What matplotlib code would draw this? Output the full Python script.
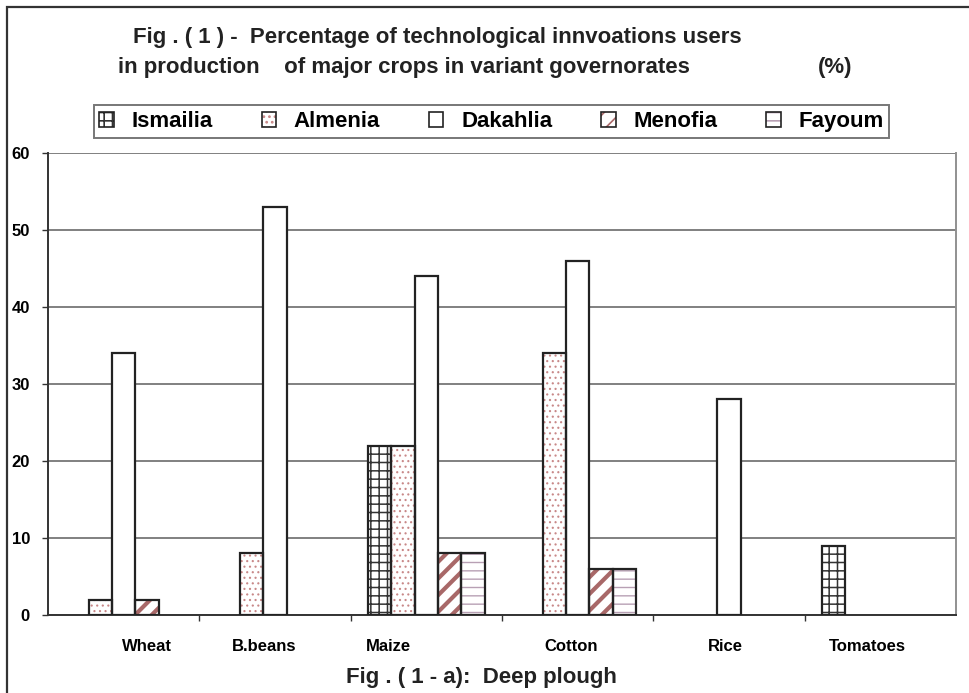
import numpy as np
import matplotlib
matplotlib.use("Agg")
import matplotlib.pyplot as plt
from matplotlib.patches import Rectangle
from matplotlib.transforms import ScaledTranslation

plt.rcParams['font.family'] = ['Liberation Sans', 'DejaVu Sans']
plt.rcParams['font.weight'] = 'bold'
plt.rcParams['hatch.linewidth'] = 1.2

# data
crops = ['Wheat', 'B.beans', 'Maize', 'Cotton', 'Rice', 'Tomatoes']
governorates = ['Ismailia', 'Almenia', 'Dakahlia', 'Menofia', 'Fayoum']
ismailia = [0, 0, 22, 0, 0, 9]
almenia = [2, 8, 22, 34, 0, 0]
dakahlia = [34, 53, 44, 46, 28, 0]
menofia = [2, 0, 8, 6, 0, 0]
fayoum = [0, 0, 8, 6, 0, 0]
series = [ismailia, almenia, dakahlia, menofia, fayoum]

# styling: (hatch, hatch colour, hatch linewidth)
styles = [('++', '#333333', 1.1), ('...', '#c88888', 0.8), ('', '#ffffff', 1.0),
          ('//', '#a86868', 3.0), ('--', '#b8a0b4', 1.0)]

# label offsets (px) to mimic the original placement
label_dx = [23, -11, -38, -7, -4, -13]

fig = plt.figure(figsize=(9.7, 6.93), dpi=100)
ax = fig.add_axes([48 / 970, 78 / 693, 908 / 970, 462 / 693])


def set_hlw(artists, lw):
    for a in artists:
        if hasattr(a, 'set_hatch_linewidth'):
            a.set_hatch_linewidth(lw)


x = np.arange(len(crops))
w = 0.154
handles = []
for i, (vals, (hatch, hc, hlw)) in enumerate(zip(series, styles)):
    pos = x + (i - 2) * w
    vals = np.array(vals, dtype=float)
    vals[vals == 0] = np.nan
    bars = ax.bar(pos, vals, w, color='white', edgecolor=hc, hatch=hatch, linewidth=0, zorder=2)
    set_hlw(bars, hlw)
    ax.bar(pos, vals, w, facecolor='none', edgecolor='#222222', linewidth=1.6, zorder=3)
    h1 = Rectangle((0, 0), 1, 1, facecolor='white', edgecolor=hc, hatch=hatch, linewidth=0)
    set_hlw([h1], hlw)
    h2 = Rectangle((0, 0), 1, 1, facecolor='none', edgecolor='#222222', linewidth=1.2)
    handles.append((h1, h2))

ax.set_xlim(-0.5, len(crops) - 0.5)
ax.set_ylim(0, 60)
ax.set_yticks(range(0, 61, 10))
ax.yaxis.grid(True, color='#808080', linewidth=1.4)
ax.set_axisbelow(True)
ax.tick_params(axis='y', length=4, width=1, pad=9, labelsize=12, color='#333333')

ax.set_xticks(x[:-1] + 0.5)
ax.set_xticklabels([])
ax.set_xticks(x, minor=True)
ax.set_xticklabels(crops, minor=True)
ax.tick_params(axis='x', which='major', length=4, width=1, color='#333333')
ax.tick_params(axis='x', which='minor', length=0, pad=17, labelsize=12)
for lbl, dx in zip(ax.xaxis.get_minorticklabels(), label_dx):
    lbl.set_transform(lbl.get_transform() + ScaledTranslation(dx / 100, 0, fig.dpi_scale_trans))

ax.spines['top'].set_visible(False)
ax.spines['left'].set_color('#333333')
ax.spines['bottom'].set_color('#333333')
ax.spines['right'].set_color('#909090')
for s in ax.spines.values():
    s.set_linewidth(1.4)

leg = fig.legend(handles, governorates, ncol=5, loc='center',
                 bbox_to_anchor=(491.5 / 970, 1 - 121.5 / 693),
                 fontsize=16, frameon=True, fancybox=False, edgecolor='#555555',
                 handlelength=0.65, handleheight=0.65, handletextpad=0.8,
                 columnspacing=2.2, borderpad=0.25)
leg.get_frame().set_linewidth(1.4)

fig.text(133 / 970, 1 - 37 / 693, 'Fig . ( 1 ) -  Percentage of technological innvoations users',
         fontsize=16, ha='left', va='center', color='#222222')
fig.text(118 / 970, 1 - 67 / 693, 'in production    of major crops in variant governorates',
         fontsize=16, ha='left', va='center', color='#222222')
fig.text(835 / 970, 1 - 67 / 693, '(%)', fontsize=16, ha='center', va='center', color='#222222')
fig.text(481 / 970, 1 - 678 / 693, 'Fig . ( 1 - a):  Deep plough',
         fontsize=16, ha='center', va='center', color='#222222')

# outer frame of the original figure (runs off the right and bottom)
fig.patches.append(Rectangle((7 / 970, -0.1), 1.2, 1 - 7 / 693 + 0.1, transform=fig.transFigure,
                             fill=False, edgecolor='#333333', linewidth=1.6))

fig.savefig('out.png', dpi=100)
